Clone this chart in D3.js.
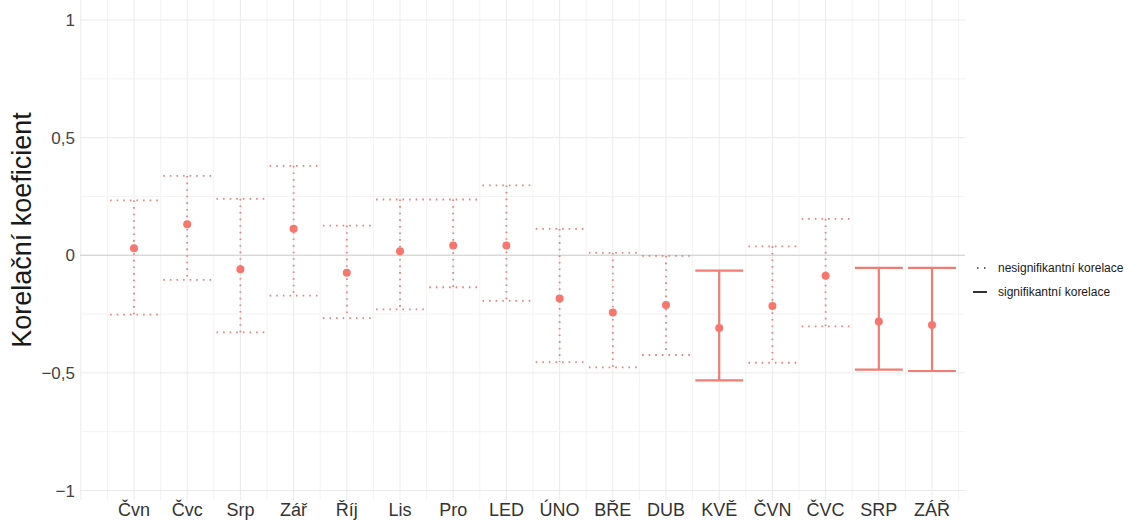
<!DOCTYPE html>
<html>
<head>
<meta charset="utf-8">
<script src="https://cdn.jsdelivr.net/npm/d3@7"></script>
<style>
  body { margin: 0; background: white; }
  text { font-family: "Liberation Sans", Arial, sans-serif; }
</style>
</head>
<body>
<div id="chart"></div>
<script>
// Data
const months = ["Čvn", "Čvc", "Srp", "Zář", "Říj", "Lis", "Pro", "LED", "ÚNO", "BŘE", "DUB", "KVĚ", "ČVN", "ČVC", "SRP", "ZÁŘ"];
const estimate = [0.030, 0.132, -0.060, 0.113, -0.074, 0.017, 0.041, 0.041, -0.184, -0.243, -0.211, -0.309, -0.216, -0.087, -0.282, -0.296];
const lower = [-0.252, -0.105, -0.328, -0.172, -0.267, -0.230, -0.136, -0.194, -0.454, -0.477, -0.424, -0.532, -0.457, -0.302, -0.486, -0.492];
const upper = [0.233, 0.337, 0.240, 0.380, 0.126, 0.237, 0.237, 0.297, 0.112, 0.010, -0.003, -0.065, 0.038, 0.155, -0.054, -0.054];
const significant = [false, false, false, false, false, false, false, false, false, false, false, true, false, false, true, true];
const yTicks = [-1, -0.5, 0, 0.5, 1];
const yMinor = [-0.75, -0.25, 0.25, 0.75];
const legendLabels = ["nesignifikantní korelace", "signifikantní korelace"];

const data = months.map((m, i) => ({
  month: m,
  pos: i + 1,
  est: estimate[i],
  lo: lower[i],
  hi: upper[i],
  sig: significant[i]
}));

let width = 1138, height = 520;
let panel = { left: 80, right: 965, top: 0, bottom: 500 };
const col = "#F8766D";

let svg = d3.select('#chart')
  .append('svg')
  .attr('width', width)
  .attr('height', height)
  .style('background', 'white');

// scales: categories sit at 1..16 on a continuous axis
let x = d3.scaleLinear()
  .domain([-0.015, 16.62])
  .range([panel.left, panel.right]);

let y = d3.scaleLinear()
  .domain([-1, 1])
  .range([490.5, 20]);

const step = x(2) - x(1);

// grid lines
let grid = svg.append('g');
const xGrid = d3.range(0, 16.6, 0.5);
grid.selectAll('.vgrid')
  .data(xGrid)
  .enter()
  .append('line')
  .attr('x1', d => x(d))
  .attr('x2', d => x(d))
  .attr('y1', panel.top)
  .attr('y2', panel.bottom)
  .attr('stroke', d => Number.isInteger(d) ? '#ebebeb' : '#f3f3f3')
  .attr('stroke-width', 1);

grid.selectAll('.hgrid')
  .data(yTicks.concat(yMinor))
  .enter()
  .append('line')
  .attr('x1', panel.left)
  .attr('x2', panel.right)
  .attr('y1', d => y(d))
  .attr('y2', d => y(d))
  .attr('stroke', d => yTicks.includes(d) ? '#ebebeb' : '#f3f3f3')
  .attr('stroke-width', 1);

// zero line
svg.append('line')
  .attr('x1', panel.left)
  .attr('x2', panel.right)
  .attr('y1', y(0))
  .attr('y2', y(0))
  .attr('stroke', '#cfcfcf')
  .attr('stroke-width', 1);

// error bars
const capW = step * 0.9;
let bars = svg.selectAll('.bar')
  .data(data)
  .enter()
  .append('g');

function styleBar(sel) {
  sel.attr('stroke', d => d.sig ? '#f07c74' : '#e0857f')
    .attr('stroke-width', d => d.sig ? 2.2 : 1.8)
    .attr('stroke-dasharray', d => d.sig ? null : '1.6,5')
    .attr('fill', 'none');
}

bars.append('line')
  .attr('x1', d => x(d.pos))
  .attr('x2', d => x(d.pos))
  .attr('y1', d => y(d.hi))
  .attr('y2', d => y(d.lo))
  .call(styleBar);

bars.append('line')
  .attr('x1', d => x(d.pos) - capW / 2)
  .attr('x2', d => x(d.pos) + capW / 2)
  .attr('y1', d => y(d.hi))
  .attr('y2', d => y(d.hi))
  .call(styleBar);

bars.append('line')
  .attr('x1', d => x(d.pos) - capW / 2)
  .attr('x2', d => x(d.pos) + capW / 2)
  .attr('y1', d => y(d.lo))
  .attr('y2', d => y(d.lo))
  .call(styleBar);

// points
bars.append('circle')
  .attr('cx', d => x(d.pos))
  .attr('cy', d => y(d.est))
  .attr('r', 4)
  .attr('fill', col);

// y tick labels
svg.selectAll('.ytick')
  .data(yTicks)
  .enter()
  .append('text')
  .attr('x', 75)
  .attr('y', d => y(d))
  .attr('dy', '0.36em')
  .attr('text-anchor', 'end')
  .attr('font-size', 17)
  .attr('fill', '#444')
  .text(d => d3.format('')(d).replace('.', ',').replace('-', '−'));

// x tick labels
svg.selectAll('.xtick')
  .data(data)
  .enter()
  .append('text')
  .attr('x', d => x(d.pos))
  .attr('y', 516)
  .attr('text-anchor', 'middle')
  .attr('font-size', 18)
  .attr('fill', '#333')
  .text(d => d.month);

// y axis title
svg.append('text')
  .text('Korelační koeficient')
  .attr('transform', 'translate(31,230) rotate(-90)')
  .attr('text-anchor', 'middle')
  .attr('font-size', 27)
  .attr('fill', '#1a1a1a');

// legend
let legend = svg.append('g')
  .attr('transform', 'translate(972,268)');

legendLabels.forEach((label, i) => {
  legend.append('line')
    .attr('x1', 1)
    .attr('x2', 15)
    .attr('y1', i * 24)
    .attr('y2', i * 24)
    .attr('stroke', '#333')
    .attr('stroke-width', i === 0 ? 1.6 : 2)
    .attr('stroke-dasharray', i === 0 ? '1.5,5.5' : null)
    .attr('stroke-dashoffset', i === 0 ? -4 : 0);

  legend.append('text')
    .attr('x', 26)
    .attr('y', i * 24)
    .attr('dy', '0.35em')
    .attr('font-size', 12)
    .attr('fill', '#1a1a1a')
    .text(label);
});
</script>
</body>
</html>
